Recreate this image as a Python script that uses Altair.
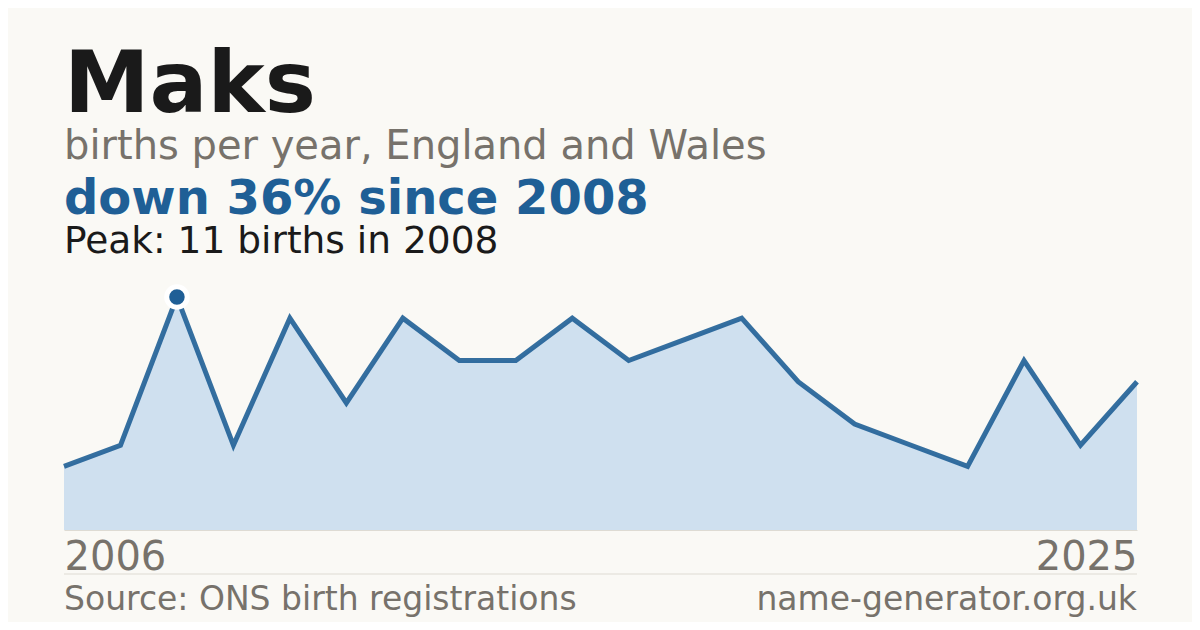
import altair as alt
import pandas as pd

years = list(range(2006, 2026))
births = [3, 4, 11, 4, 10, 6, 10, 8, 8, 10, 8, 9, 10, 7, 5, 4, 3, 8, 4, 7]

title_text = "Maks"
subtitle_text = "births per year, England and Wales"
change_text = "down 36% since 2008"
peak_text = "Peak: 11 births in 2008"
source_text = "Source: ONS birth registrations"
site_text = "name-generator.org.uk"
axis_years = [2006, 2025]

peak_year = [2008]
peak_value = [11]

BG = "#faf9f5"
BLUE = "#1f5f96"
GREY = "#77726b"
DARK = "#1a1a1a"
RULE = "#dedbd3"
FONT = "DejaVu Sans"

W, H = 1073, 233

df = pd.DataFrame({"year": years, "births": births})
peak_df = pd.DataFrame({"year": peak_year, "births": peak_value})

x_enc = alt.X(
    "year:Q",
    scale=alt.Scale(domain=[years[0], years[-1]], nice=False, zero=False),
    axis=alt.Axis(
        values=axis_years, format="d", title=None, ticks=False, grid=False,
        labelFlush=True, labelFontSize=40, labelColor=GREY, labelFont=FONT,
        labelBaseline="alphabetic", labelPadding=39,
        domain=True, domainColor=RULE, domainWidth=1,
    ),
)
y_enc = alt.Y(
    "births:Q",
    scale=alt.Scale(domain=[0, max(births)], nice=False),
    axis=None,
)

base = alt.Chart(df)
area = base.mark_area(color="#cfe0ef", opacity=1).encode(x=x_enc, y=y_enc)
line = base.mark_line(color=BLUE, strokeWidth=5, opacity=0.9).encode(x=x_enc, y=y_enc)
dot = alt.Chart(peak_df).mark_point(
    filled=True, fill=BLUE, size=420, stroke="white", strokeWidth=5, opacity=1
).encode(x="year:Q", y="births:Q")


def txt(s, x, y, size, color, weight="normal", align="left"):
    return alt.Chart(pd.DataFrame({"t": [s]})).mark_text(
        align=align, baseline="alphabetic", font=FONT, fontSize=size,
        color=color, fontWeight=weight,
    ).encode(text="t:N", x=alt.value(x), y=alt.value(y))


texts = [
    txt(title_text, 0, -185, 86, DARK, "bold"),
    txt(subtitle_text, 0, -138, 40, GREY),
    txt(change_text, 0, -83, 48, BLUE, "bold"),
    txt(peak_text, 0, -44, 37.5, DARK),
    txt(source_text, 0, 313, 33, GREY),
    txt(site_text, W, 313, 33, GREY, align="right"),
]

sep = alt.Chart(pd.DataFrame({"a": [0]})).mark_rule(color=RULE, strokeWidth=1).encode(
    x=alt.value(0), x2=alt.value(W), y=alt.value(277)
)

chart = alt.layer(area, line, dot, sep, *texts).properties(
    width=W, height=H,
    padding={"left": 56, "top": 289, "right": 55, "bottom": 92},
    autosize=alt.AutoSizeParams(type="none"),
    background=BG,
).configure_view(stroke=None)

chart.save("out.html", embed_options={"renderer": "svg", "actions": False})
